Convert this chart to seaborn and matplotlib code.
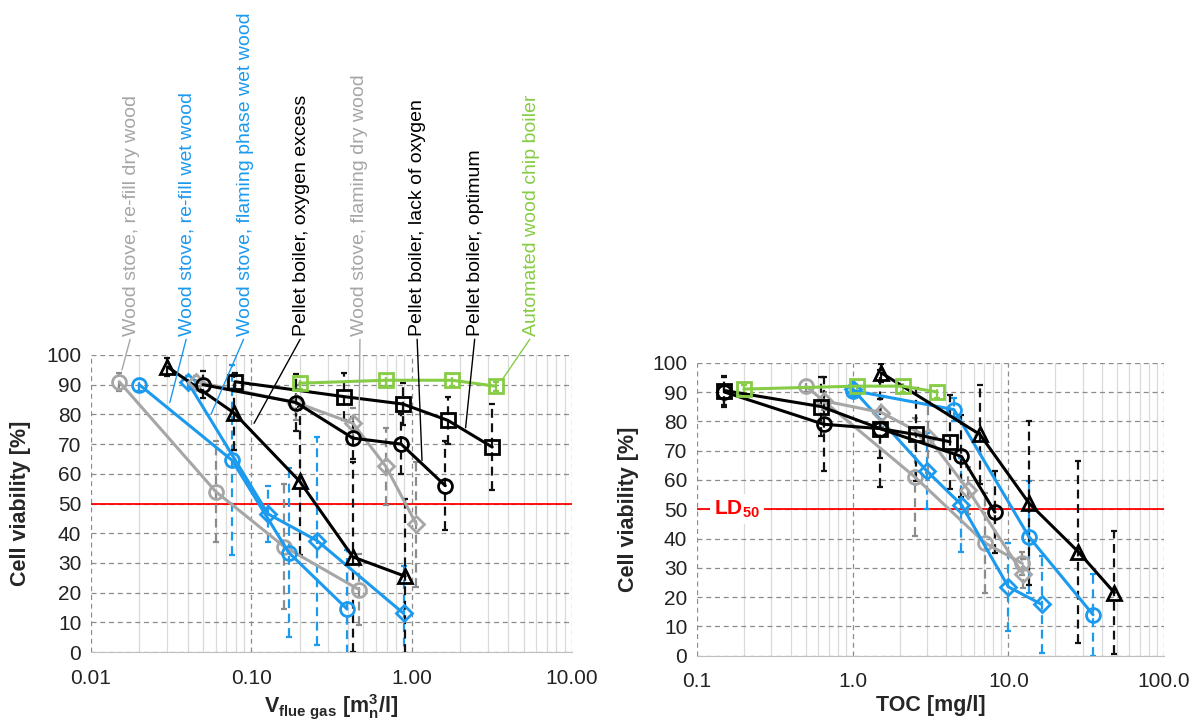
import matplotlib
matplotlib.use("Agg")
import matplotlib.pyplot as plt
import seaborn as sns
import pandas as pd
from matplotlib.ticker import FixedLocator, FixedFormatter, LogLocator, NullFormatter

sns.set_style("white")
plt.rcParams["font.family"] = ["Liberation Sans", "DejaVu Sans"]
plt.rcParams["mathtext.fontset"] = "custom"
plt.rcParams["mathtext.rm"] = "Liberation Sans:bold"
plt.rcParams["mathtext.it"] = "Liberation Sans:bold"
plt.rcParams["mathtext.bf"] = "Liberation Sans:bold"

GRAY = "#A6A6A6"
BLUE = "#1B9AEE"
BLACK = "#000000"
GREEN = "#86CC45"

# series, in the order of the labels above the left chart
series_names = [
    "Wood stove, re-fill dry wood",
    "Wood stove, re-fill wet wood",
    "Wood stove, flaming phase wet wood",
    "Pellet boiler, oxygen excess",
    "Wood stove, flaming dry wood",
    "Pellet boiler, lack of oxygen",
    "Pellet boiler, optimum",
    "Automated wood chip boiler",
]
series_colors = [GRAY, BLUE, BLUE, BLACK, GRAY, BLACK, BLACK, GREEN]
series_markers = ["o", "o", "D", "^", "D", "o", "s", "s"]

# left chart: flue gas volume [m_n^3/l] vs. cell viability [%]
flue_x = [
    [0.015, 0.06, 0.16, 0.47],
    [0.02, 0.076, 0.171, 0.395],
    [0.04, 0.127, 0.257, 0.89],
    [0.03, 0.078, 0.2, 0.43, 0.91],
    [0.045, 0.19, 0.43, 0.69, 1.07],
    [0.05, 0.19, 0.43, 0.86, 1.62],
    [0.079, 0.377, 0.88, 1.68, 3.18],
    [0.2, 0.69, 1.79, 3.34],
]
flue_y = [
    [91, 54, 35.5, 21],
    [90, 64.5, 33.5, 14.5],
    [91, 46.5, 37.5, 13],
    [96, 80.5, 57.5, 32, 25.5],
    [91, 84, 77, 62.5, 43],
    [90, 84, 72, 70, 56],
    [91, 86, 83.5, 78, 69],
    [90.5, 91.5, 91.5, 89.5],
]
flue_err = [
    [3, 17, 21, 12],
    [2, 32, 28.5, 20],
    [2, 9.5, 35, 16],
    [3, 12.5, 25, 32, 26],
    [2, 6, 5, 13, 21],
    [4.5, 9.5, 7, 10, 15],
    [3, 8, 7, 8, 14.5],
    [2, 2, 2, 1.5],
]

# right chart: TOC [mg/l] vs. cell viability [%]
toc_x = [
    [0.5, 2.51, 7.07, 12.3],
    [1.0, 4.47, 13.6, 35],
    [1.0, 3.0, 5.0, 10.0, 16.4],
    [1.53, 6.57, 13.6, 28.1, 48],
    [0.65, 1.53, 3.06, 5.53, 12.4],
    [0.15, 0.65, 1.5, 5.0, 8.2],
    [0.15, 0.63, 1.5, 2.55, 4.22],
    [0.2, 1.06, 2.09, 3.49],
]
toc_y = [
    [92, 61, 38.5, 31.5],
    [90.5, 84, 40.5, 14],
    [91, 63, 51.5, 23.5, 17.5],
    [96.5, 75.5, 52, 35.5, 21.5],
    [87, 83, 74.5, 56.5, 28],
    [90, 79, 77.5, 68, 49],
    [90.5, 85, 77.5, 75.5, 73],
    [91, 92, 92, 90],
]
toc_err = [
    [2, 20, 17, 4],
    [2, 4, 19, 14],
    [2, 13, 16, 15, 16.5],
    [3, 17, 28, 31, 21],
    [3, 5, 12, 8, 5],
    [5, 16, 20, 14, 14],
    [5, 10, 10, 16, 16],
    [1.5, 2, 2, 2],
]

# label pointers on the left chart (data point the leader line ends on)
label_px = [131, 187, 245, 302, 360, 417, 475, 532]
pointer_x = [0.0156, 0.031, 0.056, 0.104, 0.47, 1.16, 2.17, 3.65]
pointer_y = [95, 84, 80, 77, 77.5, 64.5, 75.5, 91.5]

ERR_COLORS = {GRAY: "#8C8C8C", BLUE: BLUE, BLACK: "#111111", GREEN: GREEN}


def draw_panel(ax, xs, ys, errs):
    for i, name in enumerate(series_names):
        df = pd.DataFrame({"x": xs[i], "y": ys[i], "err": errs[i]})
        col = series_colors[i]
        eb = ax.errorbar(df["x"], df["y"], yerr=df["err"], fmt="none",
                         ecolor=ERR_COLORS[col], elinewidth=1.6,
                         capsize=2.5, capthick=1.6, zorder=2)
        eb[-1][0].set_linestyle((0, (4, 2.5)))
        ms = 8 if series_markers[i] == "D" else 10
        sns.lineplot(data=df, x="x", y="y", ax=ax, color=col,
                     marker=series_markers[i], markersize=ms,
                     markerfacecolor="none", markeredgecolor=col,
                     markeredgewidth=2, linewidth=2.2, estimator=None,
                     sort=False, zorder=3)
    ax.axhline(50, color="#FF0000", lw=1.3, zorder=1)


def style_axes(ax, xmin, xmax, ticks, ticklabels):
    ax.set_xscale("log")
    ax.set_xlim(xmin, xmax)
    ax.set_ylim(0, 100)
    ax.set_yticks(range(0, 101, 10))
    ax.xaxis.set_major_locator(FixedLocator(ticks))
    ax.xaxis.set_major_formatter(FixedFormatter(ticklabels))
    ax.xaxis.set_minor_locator(LogLocator(base=10, subs=range(2, 10)))
    ax.xaxis.set_minor_formatter(NullFormatter())
    ax.grid(True, which="major", axis="both", color="#8C8C8C",
            linestyle=(0, (4, 3)), linewidth=0.9, zorder=0)
    ax.grid(True, which="minor", axis="x", color="#DADADA",
            linestyle="-", linewidth=0.9, zorder=0)
    ax.set_axisbelow(True)
    for s in ["top", "right", "left"]:
        ax.spines[s].set_visible(False)
    ax.spines["bottom"].set_color("#BFBFBF")
    ax.tick_params(axis="both", which="both", length=0, labelsize=15,
                   colors="#222222")
    ax.tick_params(axis="x", pad=12)
    ax.tick_params(axis="y", pad=7)


fig = plt.figure(figsize=(11.97, 7.23), dpi=100)
ax1 = fig.add_axes([91 / 1197, 71 / 723, 481 / 1197, 297 / 723])
ax2 = fig.add_axes([697 / 1197, 67.3 / 723, 467 / 1197, 293 / 723])

draw_panel(ax1, flue_x, flue_y, flue_err)
draw_panel(ax2, toc_x, toc_y, toc_err)

style_axes(ax1, 0.01, 10, [0.01, 0.1, 1, 10], ["0.01", "0.10", "1.00", "10.00"])
style_axes(ax2, 0.1, 100, [0.1, 1, 10, 100], ["0.1", "1.0", "10.0", "100.0"])

for ax, lx in [(ax1, -0.125), (ax2, -0.125)]:
    ax.set_ylabel("Cell viability [%]", fontsize=15.5, fontweight="bold")
    ax.yaxis.set_label_coords(lx, 0.5)

ax1.set_xlabel(r"V$_{\mathrm{flue\ gas}}$ [m$_{\mathrm{n}}^{3}$/l]",
               fontsize=15.5, fontweight="bold")
ax1.xaxis.set_label_coords(0.5, -0.135)
ax2.set_xlabel("TOC [mg/l]", fontsize=15.5, fontweight="bold")
ax2.xaxis.set_label_coords(0.5, -0.135)

ax2.text(0.18, 50, r"LD$_{50}$", color="#FF0000", fontsize=15,
         fontweight="bold", ha="center", va="center", zorder=4,
         bbox=dict(facecolor="white", edgecolor="none", pad=3))

for i, name in enumerate(series_names):
    col = series_colors[i]
    ax1.annotate(name, xy=(pointer_x[i], pointer_y[i]), xycoords="data",
                 xytext=(label_px[i], 723 - 336), textcoords="figure pixels",
                 rotation=90, ha="center", va="bottom", fontsize=14,
                 color=col, annotation_clip=False,
                 arrowprops=dict(arrowstyle="-", color=col, lw=1.0,
                                 shrinkA=0, shrinkB=0, relpos=(0.5, 0)))

fig.savefig("out.png", dpi=100)
